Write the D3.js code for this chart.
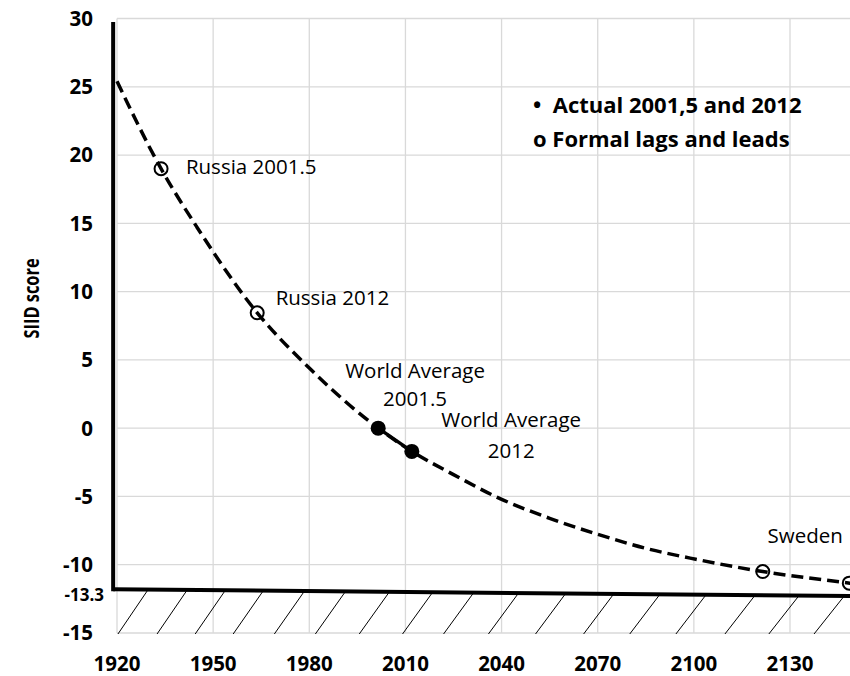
<!DOCTYPE html>
<html>
<head>
<meta charset="utf-8">
<script src="https://cdn.jsdelivr.net/npm/d3@7"></script>
<style>
  html, body { margin: 0; padding: 0; background: #fff; }
  svg { display: block; font-family: "Open Sans", sans-serif; }
</style>
</head>
<body>
<div id="chart"></div>
<script>
// ---------- data ----------
const xTicks = [1920, 1950, 1980, 2010, 2040, 2070, 2100, 2130];
const yTicks = [30, 25, 20, 15, 10, 5, 0, -5, -10, -15];
const yTickLabels = ["30", "25", "20", "15", "10", "5", "0", "-5", "-10", "-15"];
const floorLabel = "-13.3";

// dashed trajectory
const curveYears  = [1920, 1933.75, 1945, 1963.75, 1980, 2001.5, 2012, 2025, 2039, 2055, 2069.7, 2085, 2100.6, 2121.5, 2148.75, 2152];
const curveValues = [25.4, 19.0,   14.7, 8.45,    4.4,  0.0,    -1.7, -3.4, -5.1, -6.6, -7.75,  -8.8, -9.6,   -10.5,  -11.35,  -11.45];

// actual observations (filled)
const actualYears  = [2001.5, 2012];
const actualValues = [0.0, -1.7];

// formal lags and leads (open)
const formalYears  = [1933.75, 1963.75, 2121.5, 2148.5];
const formalValues = [19.0, 8.45, -10.5, -11.35];

// point labels
const labelLines = [
  { text: "Russia 2001.5", year: 1941.5, value: 18.6, anchor: "start" },
  { text: "Russia 2012", year: 1969.5, value: 9.0, anchor: "start" },
  { text: "World Average", year: 2013, value: 3.7, anchor: "middle" },
  { text: "2001.5", year: 2013, value: 1.6, anchor: "middle" },
  { text: "World Average", year: 2043, value: 0.1, anchor: "middle" },
  { text: "2012", year: 2043, value: -2.2, anchor: "middle" },
  { text: "Sweden", year: 2123, value: -8.4, anchor: "start" }
];

// floor line (bottom boundary) and hatching
const floorYears  = [1918.8, 2149.1];
const floorValues = [-11.8, -12.3];
const hatchYears = [1920.3, 1932.5, 1944.4, 1956.25, 1969.1, 1981.9, 1995.6, 2009.1, 2021.9, 2035.9, 2050.6, 2065.6, 2080, 2094.4, 2109.7, 2123.4, 2137.5, 2151.5];
const hatchLean = 9.4; // years of horizontal lean per hatch
const axisTopValue = 29.75;

const legendLines = ["\u2022\u00A0\u00A0Actual 2001,5 and 2012", "o Formal lags and leads"];
const yTitle = "SIID score";

// ---------- layout ----------
const W = 850, H = 676;
const x = d3.scaleLinear().domain([1920, 2130]).range([117, 790]);
const y = d3.scaleLinear().domain([-15, 30]).range([633, 18.5]);

const svg = d3.select("#chart").append("svg")
  .attr("width", W).attr("height", H).attr("viewBox", `0 0 ${W} ${H}`);
svg.append("rect").attr("width", W).attr("height", H).attr("fill", "#fff");

// gridlines
const grid = svg.append("g").attr("stroke", "#d9d9d9").attr("stroke-width", 1.3);
grid.selectAll("line.h").data(yTicks).join("line")
  .attr("x1", x(1920)).attr("x2", W)
  .attr("y1", d => y(d)).attr("y2", d => y(d));
grid.selectAll("line.v").data(xTicks).join("line")
  .attr("x1", d => x(d)).attr("x2", d => x(d))
  .attr("y1", y(30)).attr("y2", y(-15));

// hatching below the floor
const floorAt = d3.scaleLinear().domain(floorYears).range(floorValues);
svg.append("g").attr("stroke", "#000").attr("stroke-width", 1)
  .selectAll("line").data(hatchYears).join("line")
  .attr("x1", d => x(d)).attr("y1", y(-15) + 1)
  .attr("x2", d => x(d + hatchLean)).attr("y2", d => y(floorAt(d + hatchLean)));

// floor line
svg.append("line")
  .attr("x1", x(floorYears[0])).attr("y1", y(floorValues[0]))
  .attr("x2", x(floorYears[1])).attr("y2", y(floorValues[1]))
  .attr("stroke", "#000").attr("stroke-width", 4);

// left axis line
svg.append("line")
  .attr("x1", x(floorYears[0])).attr("x2", x(floorYears[0]))
  .attr("y1", y(axisTopValue)).attr("y2", y(floorValues[0]) + 2)
  .attr("stroke", "#000").attr("stroke-width", 4);

// curve
const curvePts = curveYears.map((t, i) => [t, curveValues[i]]);
const line = d3.line().x(d => x(d[0])).y(d => y(d[1])).curve(d3.curveMonotoneX);
svg.append("path").datum(curvePts).attr("d", line)
  .attr("fill", "none").attr("stroke", "#000").attr("stroke-width", 3.5)
  .attr("stroke-dasharray", "12,6");

// solid segment between actual points
const actualPts = actualYears.map((t, i) => [t, actualValues[i]]);
svg.append("path").datum(actualPts).attr("d", d3.line().x(d => x(d[0])).y(d => y(d[1])))
  .attr("fill", "none").attr("stroke", "#000").attr("stroke-width", 3.5);

// open circles
svg.append("g").selectAll("circle").data(formalYears).join("circle")
  .attr("cx", d => x(d)).attr("cy", (d, i) => y(formalValues[i])).attr("r", 6.5)
  .attr("fill", "none").attr("stroke", "#000").attr("stroke-width", 2);

// filled circles
svg.append("g").selectAll("circle").data(actualYears).join("circle")
  .attr("cx", d => x(d)).attr("cy", (d, i) => y(actualValues[i])).attr("r", 7.5)
  .attr("fill", "#000");

// point labels
svg.append("g").selectAll("text").data(labelLines).join("text")
  .attr("x", d => x(d.year)).attr("y", d => y(d.value))
  .attr("text-anchor", d => d.anchor)
  .attr("font-size", 20.5).attr("fill", "#000")
  .text(d => d.text);

// x tick labels
svg.append("g").selectAll("text").data(xTicks).join("text")
  .attr("x", d => x(d)).attr("y", 671)
  .attr("text-anchor", "middle").attr("font-weight", "bold").attr("font-size", 20.5)
  .text(d => d);

// y tick labels
svg.append("g").selectAll("text").data(yTicks).join("text")
  .attr("x", 93).attr("y", d => y(d)).attr("dy", "0.36em")
  .attr("text-anchor", "end").attr("font-weight", "bold").attr("font-size", 20.5)
  .text((d, i) => yTickLabels[i]);

// floor label
svg.append("text")
  .attr("x", 104).attr("y", y(floorValues[0]) + 6).attr("dy", "0.36em")
  .attr("text-anchor", "end").attr("font-weight", "bold").attr("font-size", 17)
  .text(floorLabel);

// y title
svg.append("text")
  .attr("transform", `translate(39, ${y(9.5)}) rotate(-90)`)
  .attr("text-anchor", "middle").attr("font-weight", "bold").attr("font-size", 22)
  .attr("textLength", 80).attr("lengthAdjust", "spacingAndGlyphs")
  .text(yTitle);

// legend
svg.append("g").selectAll("text").data(legendLines).join("text")
  .attr("x", 533).attr("y", (d, i) => 113 + i * 34)
  .attr("font-weight", "bold").attr("font-size", 22)
  .text(d => d);
</script>
</body>
</html>
